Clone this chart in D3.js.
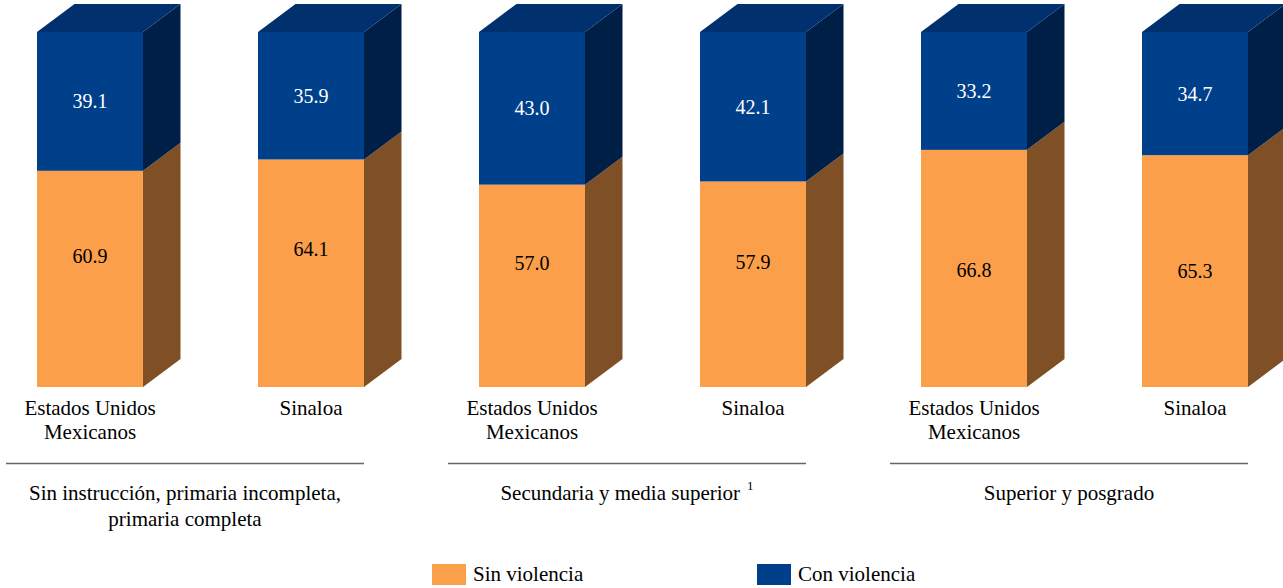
<!DOCTYPE html>
<html><head><meta charset="utf-8">
<script src="https://cdn.jsdelivr.net/npm/d3@7"></script>
<style>
@font-face{font-family:"LSerifLocal";src:local("Liberation Serif"),local("LiberationSerif"),local("LiberationSerif-Regular");}
body{margin:0;background:#fff}
svg text{font-family:"Liberation Serif","LSerifLocal","Times New Roman",serif !important;}
</style>
</head><body>
<svg id="c" width="1283" height="588"></svg>
<script>
const bars = ["EUM1","SIN1","EUM2","SIN2","EUM3","SIN3"];
const barLabels = [["Estados Unidos","Mexicanos"],["Sinaloa"],["Estados Unidos","Mexicanos"],["Sinaloa"],["Estados Unidos","Mexicanos"],["Sinaloa"]];
const sinViolencia = [60.9, 64.1, 57.0, 57.9, 66.8, 65.3];
const conViolencia = [39.1, 35.9, 43.0, 42.1, 33.2, 34.7];
const sinLabelPos = [36.9, 38.9, 34.9, 35.2, 33.0, 32.7];
const groups = [["Sin instrucción, primaria incompleta,","primaria completa"],["Secundaria y media superior"],["Superior y posgrado"]];
const groupNotes = ["", "1", ""];
const legendItems = ["Sin violencia","Con violencia"];

const svg = d3.select("#c");
const FONT = "Liberation Serif";
const FS = 21, VFS = 20;
const W = 106, DX = 37.5, DY = 28;
const x = d3.scalePoint().domain(bars).range([90, 1195]);
const y = d3.scaleLinear().domain([0, 100]).range([387, 32]);
const col = {
  sinF: "#FB9F4B", sinS: "#7F4F25",
  conF: "#003F8A", conS: "#001F46", conT: "#00306E"
};
const fmt = d3.format(".1f");
function txt(sel, px, py, size, anchor) {
  return sel.append("text").attr("x", px).attr("y", py).attr("font-family", FONT)
    .style("font-family", FONT)
    .attr("font-size", size).attr("text-anchor", anchor || "middle").attr("fill", "#000");
}

bars.forEach((b, i) => {
  const cx = x(b), x0 = cx - W/2, x1 = cx + W/2;
  const yb = y(0), ym = y(sinViolencia[i]), yt = y(sinViolencia[i] + conViolencia[i]);
  const g = svg.append("g");
  g.append("path").attr("d", `M${x1},${yb}L${x1+DX},${yb-DY}L${x1+DX},${ym-DY}L${x1},${ym}Z`).attr("fill", col.sinS);
  g.append("path").attr("d", `M${x1},${ym}L${x1+DX},${ym-DY}L${x1+DX},${yt-DY}L${x1},${yt}Z`).attr("fill", col.conS);
  g.append("path").attr("d", `M${x0},${yt}L${x0+DX},${yt-DY}L${x1+DX},${yt-DY}L${x1},${yt}Z`).attr("fill", col.conT);
  g.append("rect").attr("x", x0).attr("y", ym).attr("width", W).attr("height", yb - ym).attr("fill", col.sinF);
  g.append("rect").attr("x", x0).attr("y", yt).attr("width", W).attr("height", ym - yt).attr("fill", col.conF);
  txt(g, cx, y(sinLabelPos[i]), VFS).attr("dy", "0.35em").text(fmt(sinViolencia[i]));
  txt(g, cx, (ym + yt) / 2, VFS).attr("dy", "0.35em").attr("fill", "#fff").text(fmt(conViolencia[i]));
  barLabels[i].forEach((t, k) => {
    txt(g, cx, 415 + k * 24, FS).text(t);
  });
});

groups.forEach((lines, gi) => {
  const c1 = x(bars[gi*2]), c2 = x(bars[gi*2+1]);
  const lx0 = c1 - 84, lx1 = c2 + 53;
  svg.append("line").attr("x1", lx0).attr("x2", lx1).attr("y1", 463.5).attr("y2", 463.5)
    .attr("stroke", "#666").attr("stroke-width", 1.5);
  const mid = (lx0 + lx1) / 2;
  lines.forEach((t, k) => {
    const tx = txt(svg, mid, 500 + k * 26, FS).text(t);
    if (groupNotes[gi] && k === lines.length - 1) {
      tx.append("tspan").attr("dx", 7).attr("dy", -10).attr("font-size", 13).text(groupNotes[gi]);
    }
  });
});

const lx = d3.scalePoint().domain(legendItems).range([432, 757]);
const lcol = [col.sinF, col.conF];
legendItems.forEach((t, i) => {
  svg.append("rect").attr("x", lx(t)).attr("y", 564).attr("width", 34).attr("height", 21).attr("fill", lcol[i]);
  txt(svg, lx(t) + 41, 581, FS, "start").text(t);
});
</script>
</body></html>
